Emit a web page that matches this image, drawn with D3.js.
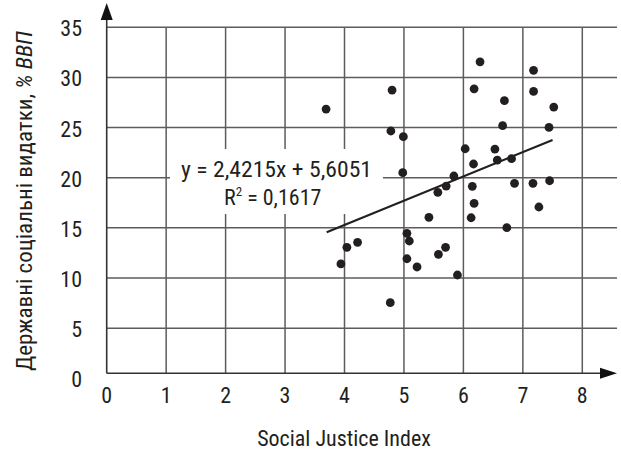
<!DOCTYPE html>
<html>
<head>
<meta charset="utf-8">
<script src="https://cdn.jsdelivr.net/npm/d3@7"></script>
<style>
  body { margin: 0; background: #fff; }
  svg text { font-family: "Liberation Sans Narrow", "Roboto Condensed", "Liberation Sans", sans-serif; fill: #231f20; }
</style>
</head>
<body>
<svg id="chart" width="621" height="454"></svg>
<script>
// social justice index (x) vs public social spending, % GDP (y)
var sjiValues = [3.69, 3.94, 4.04, 4.22, 4.77, 4.78, 4.80, 4.98, 4.99, 5.05, 5.09, 5.05, 5.22, 5.42,
  5.57, 5.58, 5.70, 5.71, 5.84, 5.90, 6.03, 6.13, 6.15, 6.17, 6.18, 6.18, 6.28, 6.53, 6.57, 6.66,
  6.69, 6.73, 6.81, 6.86, 7.17, 7.18, 7.18, 7.27, 7.44, 7.45, 7.52];
var spendValues = [26.85, 11.40, 13.06, 13.56, 7.54, 24.66, 28.74, 20.50, 24.09, 14.46, 13.69, 11.92, 11.10, 16.05,
  18.54, 12.36, 13.06, 19.17, 20.17, 10.30, 22.89, 16.01, 19.14, 21.37, 17.45, 28.87, 31.56, 22.86, 21.76, 25.19,
  27.68, 15.02, 21.90, 19.44, 19.44, 30.71, 28.61, 17.08, 25.02, 19.70, 27.05];
var xTicks = [0, 1, 2, 3, 4, 5, 6, 7, 8];
var yTicks = [0, 5, 10, 15, 20, 25, 30, 35];
var slope = 2.4215, intercept = 5.6051;
var trendRange = [3.7, 7.5];
var equationLines = ["y = 2,4215x + 5,6051", "R2 = 0,1617"];

var svg = d3.select("#chart");
var x = d3.scaleLinear().domain([0, 8]).range([106.7, 582.3]);
var y = d3.scaleLinear().domain([0, 35]).range([378.3, 27.3]);
var gridRight = 617;
var axisY = y(0) - 5;
var gridColor = "#5c5c5c";

// horizontal grid
svg.selectAll(".hgrid").data(yTicks.filter(d => d > 0))
  .enter().append("line")
  .attr("x1", x(0)).attr("x2", gridRight)
  .attr("y1", d => y(d)).attr("y2", d => y(d))
  .attr("stroke", gridColor).attr("stroke-width", 1.5);

// vertical grid
svg.selectAll(".vgrid").data(xTicks.filter(d => d > 0))
  .enter().append("line")
  .attr("x1", d => x(d)).attr("x2", d => x(d))
  .attr("y1", y(35)).attr("y2", axisY)
  .attr("stroke", gridColor).attr("stroke-width", 1.5);

// axes + arrows
svg.append("line").attr("x1", x(0)).attr("x2", 600).attr("y1", axisY).attr("y2", axisY)
  .attr("stroke", "#333").attr("stroke-width", 1.6);
svg.append("line").attr("x1", x(0)).attr("x2", x(0)).attr("y1", axisY).attr("y2", 18)
  .attr("stroke", "#333").attr("stroke-width", 1.6);
svg.append("path").attr("d", "M600," + (axisY - 5.5) + "L617," + axisY + "L600," + (axisY + 5.5) + "Z")
  .attr("fill", "#111");
svg.append("path").attr("d", "M" + (x(0) - 6) + ",20L" + x(0) + ",3L" + (x(0) + 6) + ",20Z")
  .attr("fill", "#111");

// tick labels
svg.selectAll(".xlab").data(xTicks).enter().append("text")
  .attr("x", d => x(d)).attr("y", 403)
  .attr("text-anchor", "middle").style("font-size", "22px")
  .text(d => d);
svg.selectAll(".ylab").data(yTicks).enter().append("text")
  .attr("x", 82).attr("y", d => y(d) + 9)
  .attr("text-anchor", "end").style("font-size", "22px")
  .text(d => d);

// axis titles
svg.append("text").attr("x", 344).attr("y", 446)
  .attr("text-anchor", "middle").style("font-size", "22px")
  .text("Social Justice Index");
var yt = svg.append("text")
  .attr("transform", "translate(32,201) rotate(-90)")
  .attr("text-anchor", "middle").style("font-size", "22px")
  .attr("textLength", 340).attr("lengthAdjust", "spacingAndGlyphs");
yt.append("tspan").text("Державні соціальні видатки, ");
yt.append("tspan").style("font-style", "italic").text("% ВВП");

// equation box (white background hides grid)
svg.append("rect").attr("x", 170).attr("y", 149).attr("width", 213).attr("height", 65)
  .attr("fill", "#fff");
svg.append("text").attr("x", 181).attr("y", 177)
  .style("font-size", "22px")
  .attr("textLength", 191).attr("lengthAdjust", "spacingAndGlyphs")
  .text(equationLines[0]);
var r2 = svg.append("text").attr("x", 224).attr("y", 205)
  .style("font-size", "22px");
r2.append("tspan").text("R");
r2.append("tspan").attr("dy", -9).style("font-size", "13px").text("2");
r2.append("tspan").attr("dy", 9).text(equationLines[1].slice(2));

// trend line
svg.append("line")
  .attr("x1", x(trendRange[0])).attr("y1", y(slope * trendRange[0] + intercept))
  .attr("x2", x(trendRange[1])).attr("y2", y(slope * trendRange[1] + intercept))
  .attr("stroke", "#231f20").attr("stroke-width", 2.2);

// points
svg.selectAll(".pt").data(sjiValues).enter().append("circle")
  .attr("cx", d => x(d))
  .attr("cy", (d, i) => y(spendValues[i]))
  .attr("r", 4.4)
  .attr("fill", "#231f20");
</script>
</body>
</html>
